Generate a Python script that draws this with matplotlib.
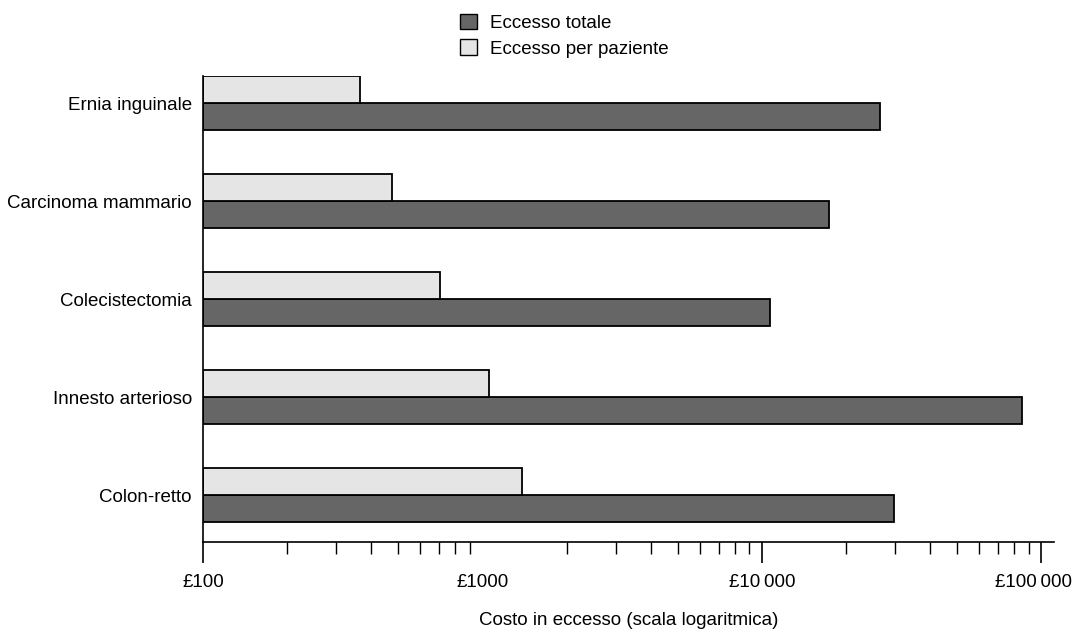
import matplotlib
matplotlib.use("Agg")
import matplotlib.pyplot as plt
import matplotlib.transforms as mtransforms
from matplotlib.patches import Patch
from matplotlib.ticker import FixedLocator, LogLocator, NullFormatter
import numpy as np

plt.rcParams["font.family"] = ["Liberation Sans", "DejaVu Sans"]

categories = ["Colon-retto", "Innesto arterioso", "Colecistectomia",
              "Carcinoma mammario", "Ernia inguinale"]
eccesso_totale = [29800, 85500, 10700, 17400, 26400]
eccesso_per_paziente = [1387, 1054, 707, 476, 366]
tick_values = [100, 1000, 10000, 100000]
tick_labels = ["£100", "£1000", "£10\u2009000", "£100\u2009000"]
series_names = ["Eccesso totale", "Eccesso per paziente"]

W, H = 1073, 632
FS = 13.5
fig = plt.figure(figsize=(W / 100, H / 100), dpi=100)
left, right, top, bottom = 203, 1054, 76, 542
ax = fig.add_axes([left / W, 1 - bottom / H, (right - left) / W, (bottom - top) / H])

dark = "#666666"
light = "#e5e5e5"
h = 0.278
y = np.arange(len(categories))
base = 100

ax.barh(y - h / 2, np.array(eccesso_totale) - base, left=base, height=h,
        color=dark, edgecolor="black", linewidth=1.3)
ax.barh(y + h / 2, np.array(eccesso_per_paziente) - base, left=base, height=h,
        color=light, edgecolor="black", linewidth=1.3)

ax.set_xscale("log")
ax.set_xlim(100, 111000)
ax.set_ylim(-0.479, 4 + h)

ax.xaxis.set_major_locator(FixedLocator(tick_values))
ax.set_xticklabels(tick_labels, fontsize=FS)
ax.xaxis.set_minor_locator(LogLocator(base=10, subs=np.arange(2, 10)))
ax.xaxis.set_minor_formatter(NullFormatter())
ax.tick_params(axis="x", which="major", length=15, width=1.2, pad=8, color="black")
ax.tick_params(axis="x", which="minor", length=8.5, width=1.0, color="black")

# the £1000 label stands without its own long tick mark
major_ticks = ax.xaxis.get_major_ticks()
major_ticks[1].tick1line.set_visible(False)
# pull the last label inward so it stays on the canvas
last = ax.get_xticklabels()[-1]
last.set_transform(last.get_transform() +
                   mtransforms.ScaledTranslation(-8 / 100, 0, fig.dpi_scale_trans))

ax.set_yticks(y)
ax.set_yticklabels(categories, fontsize=FS)
ax.tick_params(axis="y", length=0, pad=8)

for s in ["top", "right"]:
    ax.spines[s].set_visible(False)
ax.spines["left"].set_linewidth(1.2)
ax.spines["bottom"].set_linewidth(1.2)

ax.set_xlabel("Costo in eccesso (scala logaritmica)", fontsize=FS, labelpad=15)

handles = [Patch(facecolor=dark, edgecolor="black", linewidth=1.0),
           Patch(facecolor=light, edgecolor="black", linewidth=1.0)]
fig.legend(handles, series_names, loc="upper left",
           bbox_to_anchor=(460 / W, 1 - 13.5 / H), frameon=False, fontsize=FS,
           handlelength=0.9, handleheight=0.9, handletextpad=0.7,
           labelspacing=0.4, borderpad=0, borderaxespad=0)

fig.savefig("out.png", dpi=100)
